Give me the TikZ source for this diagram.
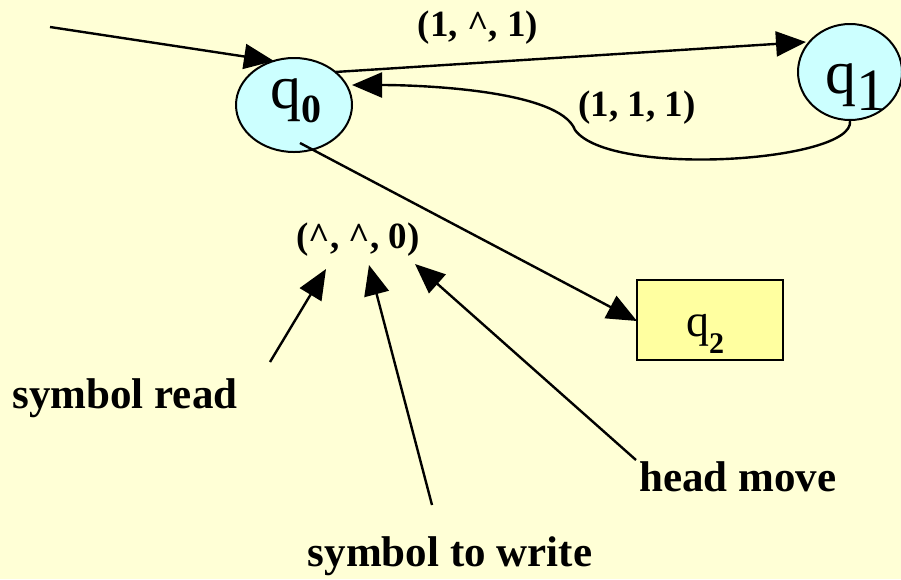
\documentclass[tikz,border=0pt]{standalone}
\usepackage{fontspec}
\setmainfont{Liberation Serif}
\usetikzlibrary{arrows.meta,shapes.geometric}
\begin{document}
\definecolor{bg}{RGB}{255,255,214}
\definecolor{statefill}{RGB}{204,255,255}
\definecolor{haltfill}{RGB}{255,255,160}
\tikzset{
  arr/.style={line width=2.4pt,-{Triangle[length=30pt,width=25pt]}},
  st/.style={ellipse,draw,line width=2pt,fill=statefill,inner sep=0pt},
  stt/.style={anchor=base west,inner sep=0pt},
  lbl/.style={font=\bfseries\fontsize{37}{40}\selectfont,inner sep=0pt},
  txt/.style={font=\bfseries\fontsize{43}{46}\selectfont,inner sep=0pt},
}
\begin{tikzpicture}[x=1pt,y=-1pt]
\useasboundingbox[fill=bg] (0,0) rectangle (901,579);
\node[st,minimum width=116pt,minimum height=94pt] (q0) at (294,105) {};
\node[st,minimum width=104pt,minimum height=96pt] (q1) at (850,72) {};
\node[draw,line width=2pt,fill=haltfill,minimum width=146pt,minimum height=80pt,inner sep=0pt] (q2) at (710,320) {};
\node[stt] (q0t) at (270,108) {\fontsize{62}{62}\selectfont q\raisebox{-14pt}{\fontsize{40}{40}\selectfont\bfseries 0}};
\node[stt] (q1t) at (825,93) {\fontsize{62}{62}\selectfont q\raisebox{-17pt}{\fontsize{60}{60}\selectfont 1}};
\node[stt] (q2t) at (686,336) {\fontsize{46}{46}\selectfont q\raisebox{-17pt}{\fontsize{30}{30}\selectfont\bfseries 2}};
\coordinate (start) at (50,27);
\draw[arr] (start) -- (274,61);
\draw[arr] (335,72) -- (806,42);
\draw[arr] (q1.south) .. controls (855,162) and (610,178) .. (575,130) .. controls (560,90) and (420,85) .. (352,85);
\draw[arr] (300,143) -- (637,321);
\node[lbl] (l1) at (478,28) {(1, \^{}, 1)};
\node[lbl] (l2) at (637,108) {(1, 1, 1)};
\node[lbl] (l3) at (358,240) {(\^{}, \^{}, 0)};
\node[txt] (sr) at (125,398) {symbol read};
\node[txt] (hm) at (738,477) {head move};
\node[txt] (sw) at (450,556) {symbol to write};
\coordinate (a1) at (270,362);
\coordinate (a2) at (432,505);
\coordinate (a3) at (636,460);
\draw[arr] (a1) -- (326,269);
\draw[arr] (a2) -- (369,265);
\draw[arr] (a3) -- (415,264);
\end{tikzpicture}
\end{document}
